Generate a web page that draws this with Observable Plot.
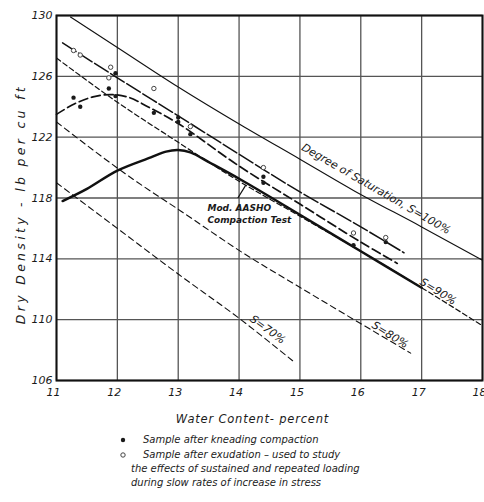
<!DOCTYPE html>
<html><head><meta charset="utf-8">
<script src="https://cdn.jsdelivr.net/npm/d3@7"></script>
<script src="https://cdn.jsdelivr.net/npm/@observablehq/plot@0.6"></script>
<style>
body{margin:0;background:#fff;font-family:"DejaVu Sans",sans-serif;}
#legend{position:relative;font-style:italic;font-size:10px;color:#222;height:77px;width:484px;}
#legend div{position:absolute;white-space:nowrap;line-height:12px;}
</style></head><body>
<div id="chart"></div>
<div id="legend"></div>
<script>
// Axis ticks
const xTicks = [11, 12, 13, 14, 15, 16, 17, 18];
const yTicks = [106, 110, 114, 118, 122, 126, 130];

// Degree of saturation lines (water content %, dry density pcf)
const s100W = [11.23, 12, 13, 14.03, 15, 15.88, 17, 18];
const s100D = [129.9, 127.9, 125.3, 122.8, 120.55, 118.5, 116.1, 113.9];
const s90W = [11, 12, 12.87, 14, 15, 16, 17, 18];
const s90D = [127.2, 124.3, 122.0, 119.1, 116.8, 114.5, 112.1, 109.6];
const s80W = [11, 12.27, 13.04, 14.06, 15.01, 16.82];
const s80D = [123.0, 119.2, 117.15, 114.4, 112.1, 107.8];
const s70W = [11, 12, 13, 14.03, 14.88];
const s70D = [119.0, 116.0, 113.0, 110.0, 107.3];

// Mod. AASHO compaction test curve
const compW = [11.1, 11.5, 12, 12.55, 12.8, 13.0, 13.2, 13.53, 14.03, 15, 16, 17];
const compD = [117.8, 118.6, 119.8, 120.67, 121.05, 121.15, 121.0, 120.3, 119.2, 116.9, 114.5, 112.1];

// Kneading compaction curve
const kneadW = [11, 11.3, 11.6, 11.9, 12.2, 12.5, 13, 14, 15, 16, 16.6];
const kneadD = [123.5, 124.2, 124.65, 124.8, 124.6, 124.0, 122.9, 120.1, 117.6, 115.1, 113.7];

// After-exudation line
const exudW = [11.1, 12, 13, 14.03, 15, 16, 16.71];
const exudD = [128.2, 125.9, 123.4, 120.8, 118.4, 116.1, 114.4];

// Samples
const kneadPtW = [11.28, 11.39, 11.97, 11.86, 11.97, 12.6, 13.0, 13.0, 13.2, 14.4, 14.4, 15.88, 16.41];
const kneadPtD = [124.6, 124.0, 126.2, 125.2, 124.7, 123.6, 123.3, 123.0, 122.2, 119.4, 119.0, 114.9, 115.1];
const exudPtW = [11.28, 11.39, 11.89, 11.86, 12.6, 13.2, 14.4, 15.88, 16.41];
const exudPtD = [127.7, 127.4, 126.6, 125.9, 125.2, 122.7, 120.0, 115.7, 115.4];

// Line labels
const lineLabels = ["Degree of Saturation, S=100%", "S=90%", "S=80%", "S=70%"];
const lineLabelW = [16.25, 17.27, 16.48, 14.47];
const lineLabelD = [118.6, 111.85, 109.0, 109.35];
const lineLabelAngle = [30, 32, 32, 36];

const xLabel = "Water Content- percent";
const yLabel = "Dry Density - lb per cu ft";
const compLabel = "Mod. AASHO\nCompaction Test";

const pts = (W, D) => W.map((w, i) => ({w, d: D[i]}));
const labels = lineLabels.map((t, i) => ({t, w: lineLabelW[i], d: lineLabelD[i], a: lineLabelAngle[i]}));
const font = '"DejaVu Sans", sans-serif';

const chart = Plot.plot({
  width: 484, height: 425,
  marginLeft: 56, marginRight: 2, marginTop: 15, marginBottom: 45,
  style: {fontFamily: font, background: "white", color: "#1a1a1a"},
  x: {domain: [11, 18]},
  y: {domain: [106, 130]},
  marks: [
    Plot.gridX(xTicks, {stroke: "#555", strokeOpacity: 1, strokeWidth: 1.3}),
    Plot.gridY(yTicks, {stroke: "#555", strokeOpacity: 1, strokeWidth: 1.3}),
    Plot.axisX(xTicks, {tickSize: 0, tickPadding: 8, dx: -3, fontSize: 11, fontStyle: "italic", label: null}),
    Plot.axisY(yTicks, {tickSize: 0, tickPadding: 4, fontSize: 11, fontStyle: "italic", label: null}),
    Plot.line(pts(s100W, s100D), {x: "w", y: "d", stroke: "#111", strokeWidth: 1.1, curve: "monotone-x"}),
    Plot.line(pts(s90W, s90D), {x: "w", y: "d", stroke: "#111", strokeWidth: 1.2, strokeDasharray: "5,3", curve: "monotone-x"}),
    Plot.line(pts(s80W, s80D), {x: "w", y: "d", stroke: "#111", strokeWidth: 1.1, strokeDasharray: "6,4", curve: "monotone-x"}),
    Plot.line(pts(s70W, s70D), {x: "w", y: "d", stroke: "#111", strokeWidth: 1.1, strokeDasharray: "6,4", curve: "monotone-x"}),
    Plot.line(pts(exudW, exudD), {x: "w", y: "d", stroke: "#111", strokeWidth: 1.5, strokeDasharray: "16,3", curve: "monotone-x"}),
    Plot.line(pts(kneadW, kneadD), {x: "w", y: "d", stroke: "#111", strokeWidth: 1.7, strokeDasharray: "9,4", curve: "catmull-rom"}),
    Plot.line(pts(compW, compD), {x: "w", y: "d", stroke: "#111", strokeWidth: 2.5, curve: "catmull-rom"}),
    Plot.dot(pts(kneadPtW, kneadPtD), {x: "w", y: "d", r: 2.2, fill: "#1a1a1a", stroke: "none"}),
    Plot.dot(pts(exudPtW, exudPtD), {x: "w", y: "d", r: 2.2, fill: "white", stroke: "#444", strokeWidth: 1}),
    Plot.text(labels, {x: "w", y: "d", text: "t", rotate: "a", fontSize: 11, fontStyle: "italic", fill: "#1a1a1a"}),
    Plot.text([compLabel], {x: 13.48, y: 117.65, text: d => d, textAnchor: "start", lineAnchor: "top", lineHeight: 1.25, fontSize: 9, fontStyle: "italic", fontWeight: "bold", fill: "#1a1a1a"}),
    Plot.link([0], {x1: 13.98, y1: 118.0, x2: 14.11, y2: 118.85, stroke: "#111", strokeWidth: 1.2}),
    Plot.text([xLabel], {x: 14.22, frameAnchor: "bottom", dy: 42, text: d => d, textAnchor: "middle", fontSize: 11.5, fontStyle: "italic", fill: "#1a1a1a"}),
    Plot.text([yLabel], {y: 117.6, frameAnchor: "left", dx: -36, rotate: -90, text: d => d, textAnchor: "middle", fontSize: 12.5, fontStyle: "italic", fill: "#1a1a1a"}),
    Plot.frame({stroke: "#111", strokeWidth: 2})
  ]
});
document.getElementById("chart").appendChild(chart);
// letter spacing for axis titles
d3.select(chart).selectAll("text").filter(function() { return this.textContent === yLabel; }).style("letter-spacing", "3.3px");
d3.select(chart).selectAll("text").filter(function() { return this.textContent === xLabel; }).style("letter-spacing", "0.8px");

// Legend
const legendItems = [
  {sym: "filled", text: "Sample after kneading compaction", left: 143, top: 9},
  {sym: "open", text: "Sample after exudation \u2013 used to study", left: 143, top: 24},
  {sym: null, text: "the effects of sustained and repeated loading", left: 131, top: 38},
  {sym: null, text: "during slow rates of increase in stress", left: 131, top: 52}
];
const leg = document.getElementById("legend");
for (const it of legendItems) {
  const div = document.createElement("div");
  div.style.left = it.left + "px";
  div.style.top = it.top + "px";
  div.textContent = it.text;
  leg.appendChild(div);
  if (it.sym) {
    const s = document.createElementNS("http://www.w3.org/2000/svg", "svg");
    s.setAttribute("width", 8); s.setAttribute("height", 8);
    s.style.position = "absolute"; s.style.left = "119px"; s.style.top = (it.top + 2) + "px";
    const c = document.createElementNS("http://www.w3.org/2000/svg", "circle");
    c.setAttribute("cx", 4); c.setAttribute("cy", 4); c.setAttribute("r", 2.2);
    if (it.sym === "filled") { c.setAttribute("fill", "#1a1a1a"); }
    else { c.setAttribute("fill", "white"); c.setAttribute("stroke", "#444"); }
    s.appendChild(c);
    leg.appendChild(s);
  }
}
</script>
</body></html>
